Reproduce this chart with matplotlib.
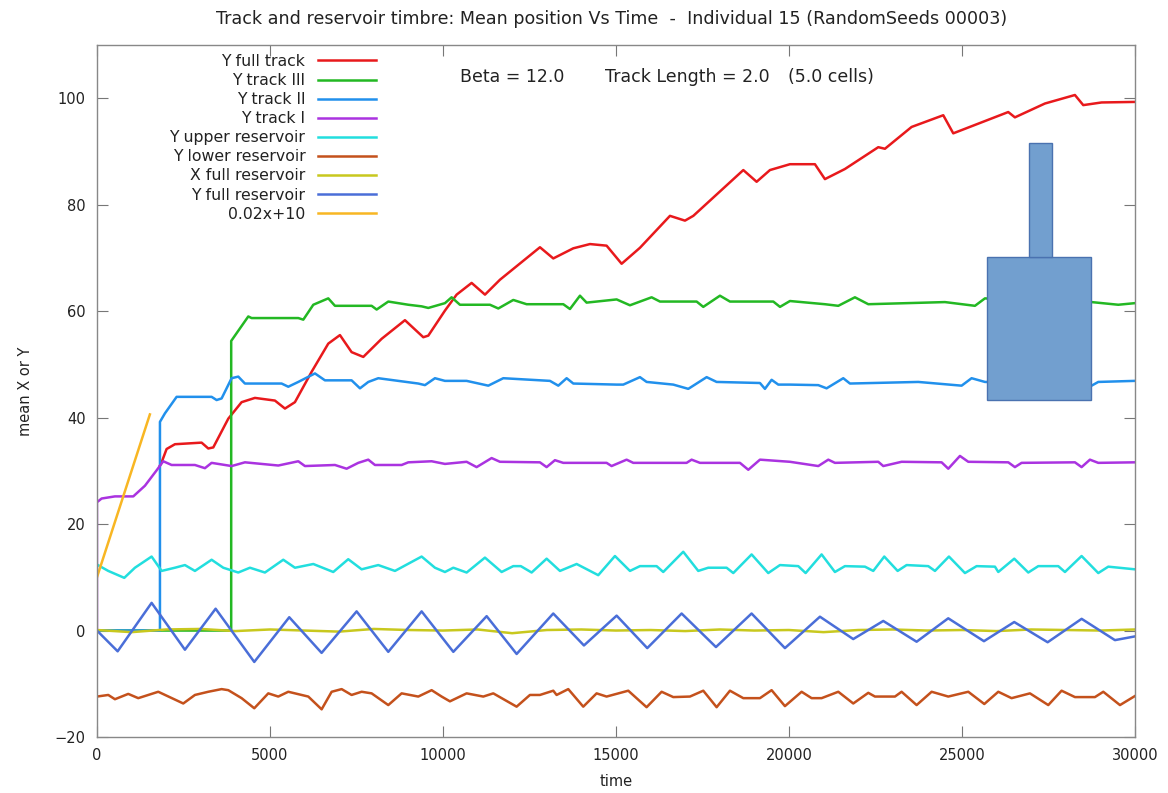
import matplotlib.pyplot as plt
from matplotlib.patches import Rectangle

plt.rcParams['font.family'] = ['DejaVu Sans']

# ---- data -------------------------------------------------------------
t_full_track = [1821, 1869, 2013, 2254, 3025, 3218, 3362, 3796, 4181, 4566, 5144, 5434,
                5722, 6204, 6686, 7023, 7360, 7698, 8228, 8902, 9432, 9577, 10058, 10395,
                10829, 11215, 11648, 12804, 13189, 13767, 14249, 14730, 15164, 15694,
                16561, 16995, 17236, 18681, 19066, 19451, 20029, 20751, 21040, 21618,
                22582, 22774, 23545, 24460, 24749, 26338, 26531, 27398, 28265, 28506,
                29036, 30000]
y_full_track = [31.0, 31.6, 34.1, 35.0, 35.3, 34.2, 34.4, 39.8, 42.9, 43.7, 43.2, 41.7,
                42.9, 48.6, 53.9, 55.5, 52.3, 51.4, 54.8, 58.3, 55.1, 55.4, 60.1, 63.1,
                65.3, 63.1, 65.9, 72.0, 69.9, 71.8, 72.6, 72.3, 68.9, 71.9,
                77.9, 77.0, 77.9, 86.5, 84.3, 86.5, 87.6, 87.6, 84.8, 86.7,
                90.8, 90.5, 94.6, 96.8, 93.4, 97.4, 96.4, 99.0, 100.6, 98.7,
                99.2, 99.3]

t_track3 = [0, 3880, 3880, 4374, 4470, 5819, 5964, 6253, 6686, 6879, 7939, 8084, 8421,
            8999, 9384, 9577, 10058, 10250, 10491, 11359, 11600, 12033, 12418, 13478,
            13671, 13960, 14152, 15020, 15405, 16031, 16272, 17332, 17524, 18006, 18295,
            19548, 19741, 20029, 21040, 21426, 21907, 22293, 24509, 25376, 25665, 27200,
            28747, 29518, 30000]
y_track3 = [0.0, 0.0, 54.4, 59.0, 58.7, 58.7, 58.4, 61.2, 62.4, 61.0, 61.0, 60.3, 61.8,
            61.2, 60.9, 60.6, 61.5, 62.6, 61.2, 61.2, 60.5, 62.1, 61.3, 61.3,
            60.4, 62.9, 61.6, 62.2, 61.1, 62.6, 61.8, 61.8, 60.8, 62.9, 61.8,
            61.8, 60.8, 61.9, 61.3, 61.0, 62.6, 61.3, 61.7, 61.0, 62.4, 61.6,
            61.7, 61.2, 61.5]

t_track2 = [0, 1821, 1821, 1965, 2303, 3314, 3459, 3603, 3892, 4085, 4277, 5337, 5530,
            5819, 6301, 6590, 7360, 7602, 7843, 8131, 9287, 9480, 9769, 10058, 10684,
            11311, 11744, 13093, 13334, 13575, 13768, 15020, 15212, 15694, 15887, 16657,
            17091, 17621, 17910, 19162, 19306, 19499, 19692, 20029, 20848, 21088, 21570,
            21763, 23738, 24990, 25279, 25665, 27200, 28747, 28940, 30000]
y_track2 = [0.0, 0.0, 39.2, 40.8, 43.9, 43.9, 43.3, 43.6, 47.4, 47.7, 46.4, 46.4, 45.8,
            46.7, 48.3, 47.0, 47.0, 45.5, 46.7, 47.4, 46.4, 46.1, 47.4, 46.9, 46.9,
            46.0, 47.4, 46.9, 46.0, 47.4, 46.4, 46.2, 46.2, 47.6, 46.7, 46.2,
            45.4, 47.6, 46.7, 46.5, 45.4, 47.1, 46.2, 46.2, 46.1, 45.5, 47.4,
            46.4, 46.7, 46.0, 47.4, 46.7, 46.5, 46.0, 46.7, 46.9]

t_track1 = [0, 0, 135, 520, 1050, 1387, 1725, 1917, 2158, 2832, 3121, 3314, 3893, 4277,
            5241, 5819, 6012, 6879, 7216, 7553, 7842, 8035, 8806, 8999, 9673, 10058,
            10684, 10973, 11407, 11648, 12803, 12996, 13237, 13478, 14730, 14874, 15308,
            15501, 17042, 17187, 17428, 18584, 18825, 19162, 20029, 20848, 21137, 21329,
            22582, 22726, 23256, 24412, 24605, 24942, 25183, 26339, 26531, 26724, 28266,
            28458, 28699, 28940, 30000]
y_track1 = [0.0, 24.1, 24.8, 25.2, 25.2, 27.2, 30.1, 31.8, 31.1, 31.1, 30.5, 31.5, 30.9,
            31.6, 31.0, 31.8, 30.9, 31.1, 30.4, 31.5, 32.1, 31.1, 31.1, 31.6, 31.8, 31.3,
            31.7, 30.7, 32.4, 31.7, 31.6, 30.7, 32.0, 31.5, 31.5, 30.9, 32.1,
            31.5, 31.5, 32.1, 31.5, 31.5, 30.2, 32.1, 31.7, 30.9, 32.1, 31.5,
            31.7, 30.9, 31.7, 31.6, 30.4, 32.8, 31.7, 31.6, 30.7, 31.5, 31.6,
            30.7, 32.1, 31.5, 31.6]

t_upper = [0, 327, 790, 1098, 1580, 1870, 2254, 2543, 2832, 3314, 3651, 4084, 4422, 4855,
           5385, 5723, 6253, 6830, 7263, 7650, 8131, 8613, 9384, 9769, 10058, 10300,
           10685, 11214, 11696, 12032, 12250, 12563, 12997, 13382, 13864, 14489, 14971,
           15405, 15694, 16175, 16367, 16945, 17379, 17667, 18198, 18391, 18921, 19402,
           19740, 20270, 20482, 20944, 21329, 21618, 22197, 22437, 22755, 23141, 23401,
           24027, 24220, 24624, 25087, 25424, 25954, 26050, 26512, 26917, 27206, 27784,
           27977, 28458, 28940, 29229, 30000]
y_upper = [12.4, 11.2, 9.9, 11.8, 13.9, 11.2, 11.8, 12.3, 11.2, 13.3, 11.8, 10.9, 11.8, 10.9,
           13.3, 11.8, 12.5, 11.0, 13.4, 11.5, 12.3, 11.2, 13.9, 11.8, 11.0, 11.8,
           10.9, 13.7, 11.0, 12.1, 12.1, 10.9, 13.5, 11.2, 12.5, 10.4, 14.0,
           11.2, 12.1, 12.1, 11.0, 14.8, 11.2, 11.8, 11.8, 10.8, 14.3, 10.8,
           12.3, 12.1, 10.8, 14.3, 11.0, 12.1, 12.0, 11.2, 13.9, 11.2, 12.3,
           12.1, 11.2, 13.9, 10.8, 12.1, 12.0, 11.0, 13.5, 10.9, 12.1, 12.1,
           11.0, 14.0, 10.8, 12.0, 11.5]

t_lower = [0, 327, 520, 905, 1194, 1772, 2495, 2832, 3218, 3603, 3796, 4181, 4547, 4952,
           5241, 5530, 6108, 6494, 6783, 7072, 7360, 7650, 7939, 8420, 8806, 9287, 9673,
           9962, 10202, 10684, 11166, 11455, 12129, 12514, 12803, 13189, 13285, 13622,
           14055, 14441, 14730, 15356, 15886, 16320, 16657, 17139, 17524, 17910, 18295,
           18680, 19162, 19499, 19884, 20366, 20655, 20944, 21426, 21859, 22293, 22486,
           23064, 23256, 23690, 24124, 24605, 25183, 25646, 26050, 26435, 26965, 27495,
           27880, 28266, 28844, 29085, 29567, 30000]
y_lower = [-12.4, -12.1, -12.9, -11.9, -12.7, -11.5, -13.7, -12.1, -11.5, -11.0, -11.2,
           -12.7, -14.6, -11.8, -12.4, -11.5, -12.4, -14.8, -11.5, -11.0, -12.1, -11.5,
           -11.8, -14.0, -11.8, -12.4, -11.2, -12.4, -13.3, -11.8, -12.4, -11.8, -14.3,
           -12.1, -12.1, -11.3, -12.1, -11.0, -14.3, -11.8, -12.4, -11.3, -14.4, -11.5,
           -12.5, -12.4, -11.3, -14.4, -11.3, -12.7, -12.7, -11.2, -14.2, -11.5, -12.7,
           -12.7, -11.5, -13.7, -11.7, -12.4, -12.4, -11.5, -14.0, -11.5, -12.4, -11.5,
           -13.8, -11.5, -12.7, -11.8, -14.0, -11.3, -12.5, -12.5, -11.5, -14.0, -12.3]

t_x_res = list(range(0, 30001, 1000))
y_x_res = [0.1, -0.3, 0.2, 0.3, -0.1, 0.2, 0.0, -0.2, 0.3, 0.1, 0.0, 0.2, -0.5, 0.1, 0.2,
           0.0, 0.1, -0.1, 0.2, 0.0, 0.1, -0.3, 0.1, 0.2, 0.0, 0.1, -0.1, 0.2, 0.1, 0.0, 0.2]

t_y_res = [0, 598, 1580, 2543, 3430, 4547, 5558, 6493, 7505, 8420, 9384, 10300, 11263,
           12130, 13188, 14075, 15020, 15905, 16898, 17890, 18920, 19884, 20896, 21858,
           22726, 23690, 24604, 25636, 26511, 27477, 28459, 29422, 30000]
y_y_res = [0.0, -3.9, 5.2, -3.6, 4.1, -5.9, 2.5, -4.2, 3.6, -4.0, 3.6, -4.0, 2.7,
           -4.4, 3.2, -2.8, 2.8, -3.3, 3.2, -3.1, 3.2, -3.3, 2.6, -1.6,
           1.8, -2.1, 2.3, -2.0, 1.6, -2.2, 2.2, -1.8, -1.1]

# reference line 0.02x+10
ref_slope, ref_intercept = 0.02, 10
t_ref = [0, 1530]
y_ref = [ref_slope * t + ref_intercept for t in t_ref]

series = [
    ("Y full track", t_full_track, y_full_track, "#e8191c"),
    ("Y track III", t_track3, y_track3, "#23b823"),
    ("Y track II", t_track2, y_track2, "#2190ec"),
    ("Y track I", t_track1, y_track1, "#aa33e0"),
    ("Y upper reservoir", t_upper, y_upper, "#22dede"),
    ("Y lower reservoir", t_lower, y_lower, "#c4511c"),
    ("X full reservoir", t_x_res, y_x_res, "#c8c81e"),
    ("Y full reservoir", t_y_res, y_y_res, "#4a6ed8"),
    ("0.02x+10", t_ref, y_ref, "#f8b623"),
]

# ---- figure -----------------------------------------------------------
fig = plt.figure(figsize=(11.68, 7.93), dpi=100)
ax = fig.add_axes([0.0830, 0.0706, 0.8887, 0.8727])

for label, t, y, color in series:
    ax.plot(t, y, color=color, linewidth=1.8, label=label)

# reservoir / track sketch
body = Rectangle((25723, 43.4), 3005, 26.8, facecolor="#729fcf", edgecolor="#4a72b0",
                 linewidth=1.0, zorder=5)
neck = Rectangle((26936, 70.2), 665, 21.3, facecolor="#729fcf", edgecolor="#4a72b0",
                 linewidth=1.0, zorder=5)
ax.add_patch(body)
ax.add_patch(neck)

ax.set_xlim(0, 30000)
ax.set_ylim(-20, 110)
ax.set_xticks(range(0, 30001, 5000))
ax.set_yticks(range(-20, 101, 20))
ax.tick_params(direction="in", length=8, width=0.8, top=True, right=True,
               labelsize=10.5, labelcolor="#222222", color="#777777", pad=8)
for sp in ax.spines.values():
    sp.set_color("#888888")
    sp.set_linewidth(1.0)

ax.set_xlabel("time", fontsize=10.5, color="#222222", labelpad=8)
ax.set_ylabel("mean X or Y", fontsize=10.5, color="#222222", labelpad=16)
fig.suptitle("Track and reservoir timbre: Mean position Vs Time  -  Individual 15 (RandomSeeds 00003)",
             fontsize=12.6, color="#222222", x=0.524, y=0.988, va="top")

ax.text(0.3497, 0.954, "Beta = 12.0", transform=ax.transAxes, fontsize=12.5,
        color="#222222", va="center")
ax.text(0.4894, 0.954, "Track Length = 2.0", transform=ax.transAxes, fontsize=12.5,
        color="#222222", va="center")
ax.text(0.6657, 0.954, "(5.0 cells)", transform=ax.transAxes, fontsize=12.5,
        color="#222222", va="center")

leg = ax.legend(loc="upper right", bbox_to_anchor=(0.2688, 0.987), frameon=False,
                markerfirst=False, fontsize=11.3, handlelength=3.7, handletextpad=0.8,
                labelspacing=0.26, borderpad=0, borderaxespad=0)
for txt in leg.get_texts():
    txt.set_color("#222222")

fig.savefig("out.png", dpi=100)
